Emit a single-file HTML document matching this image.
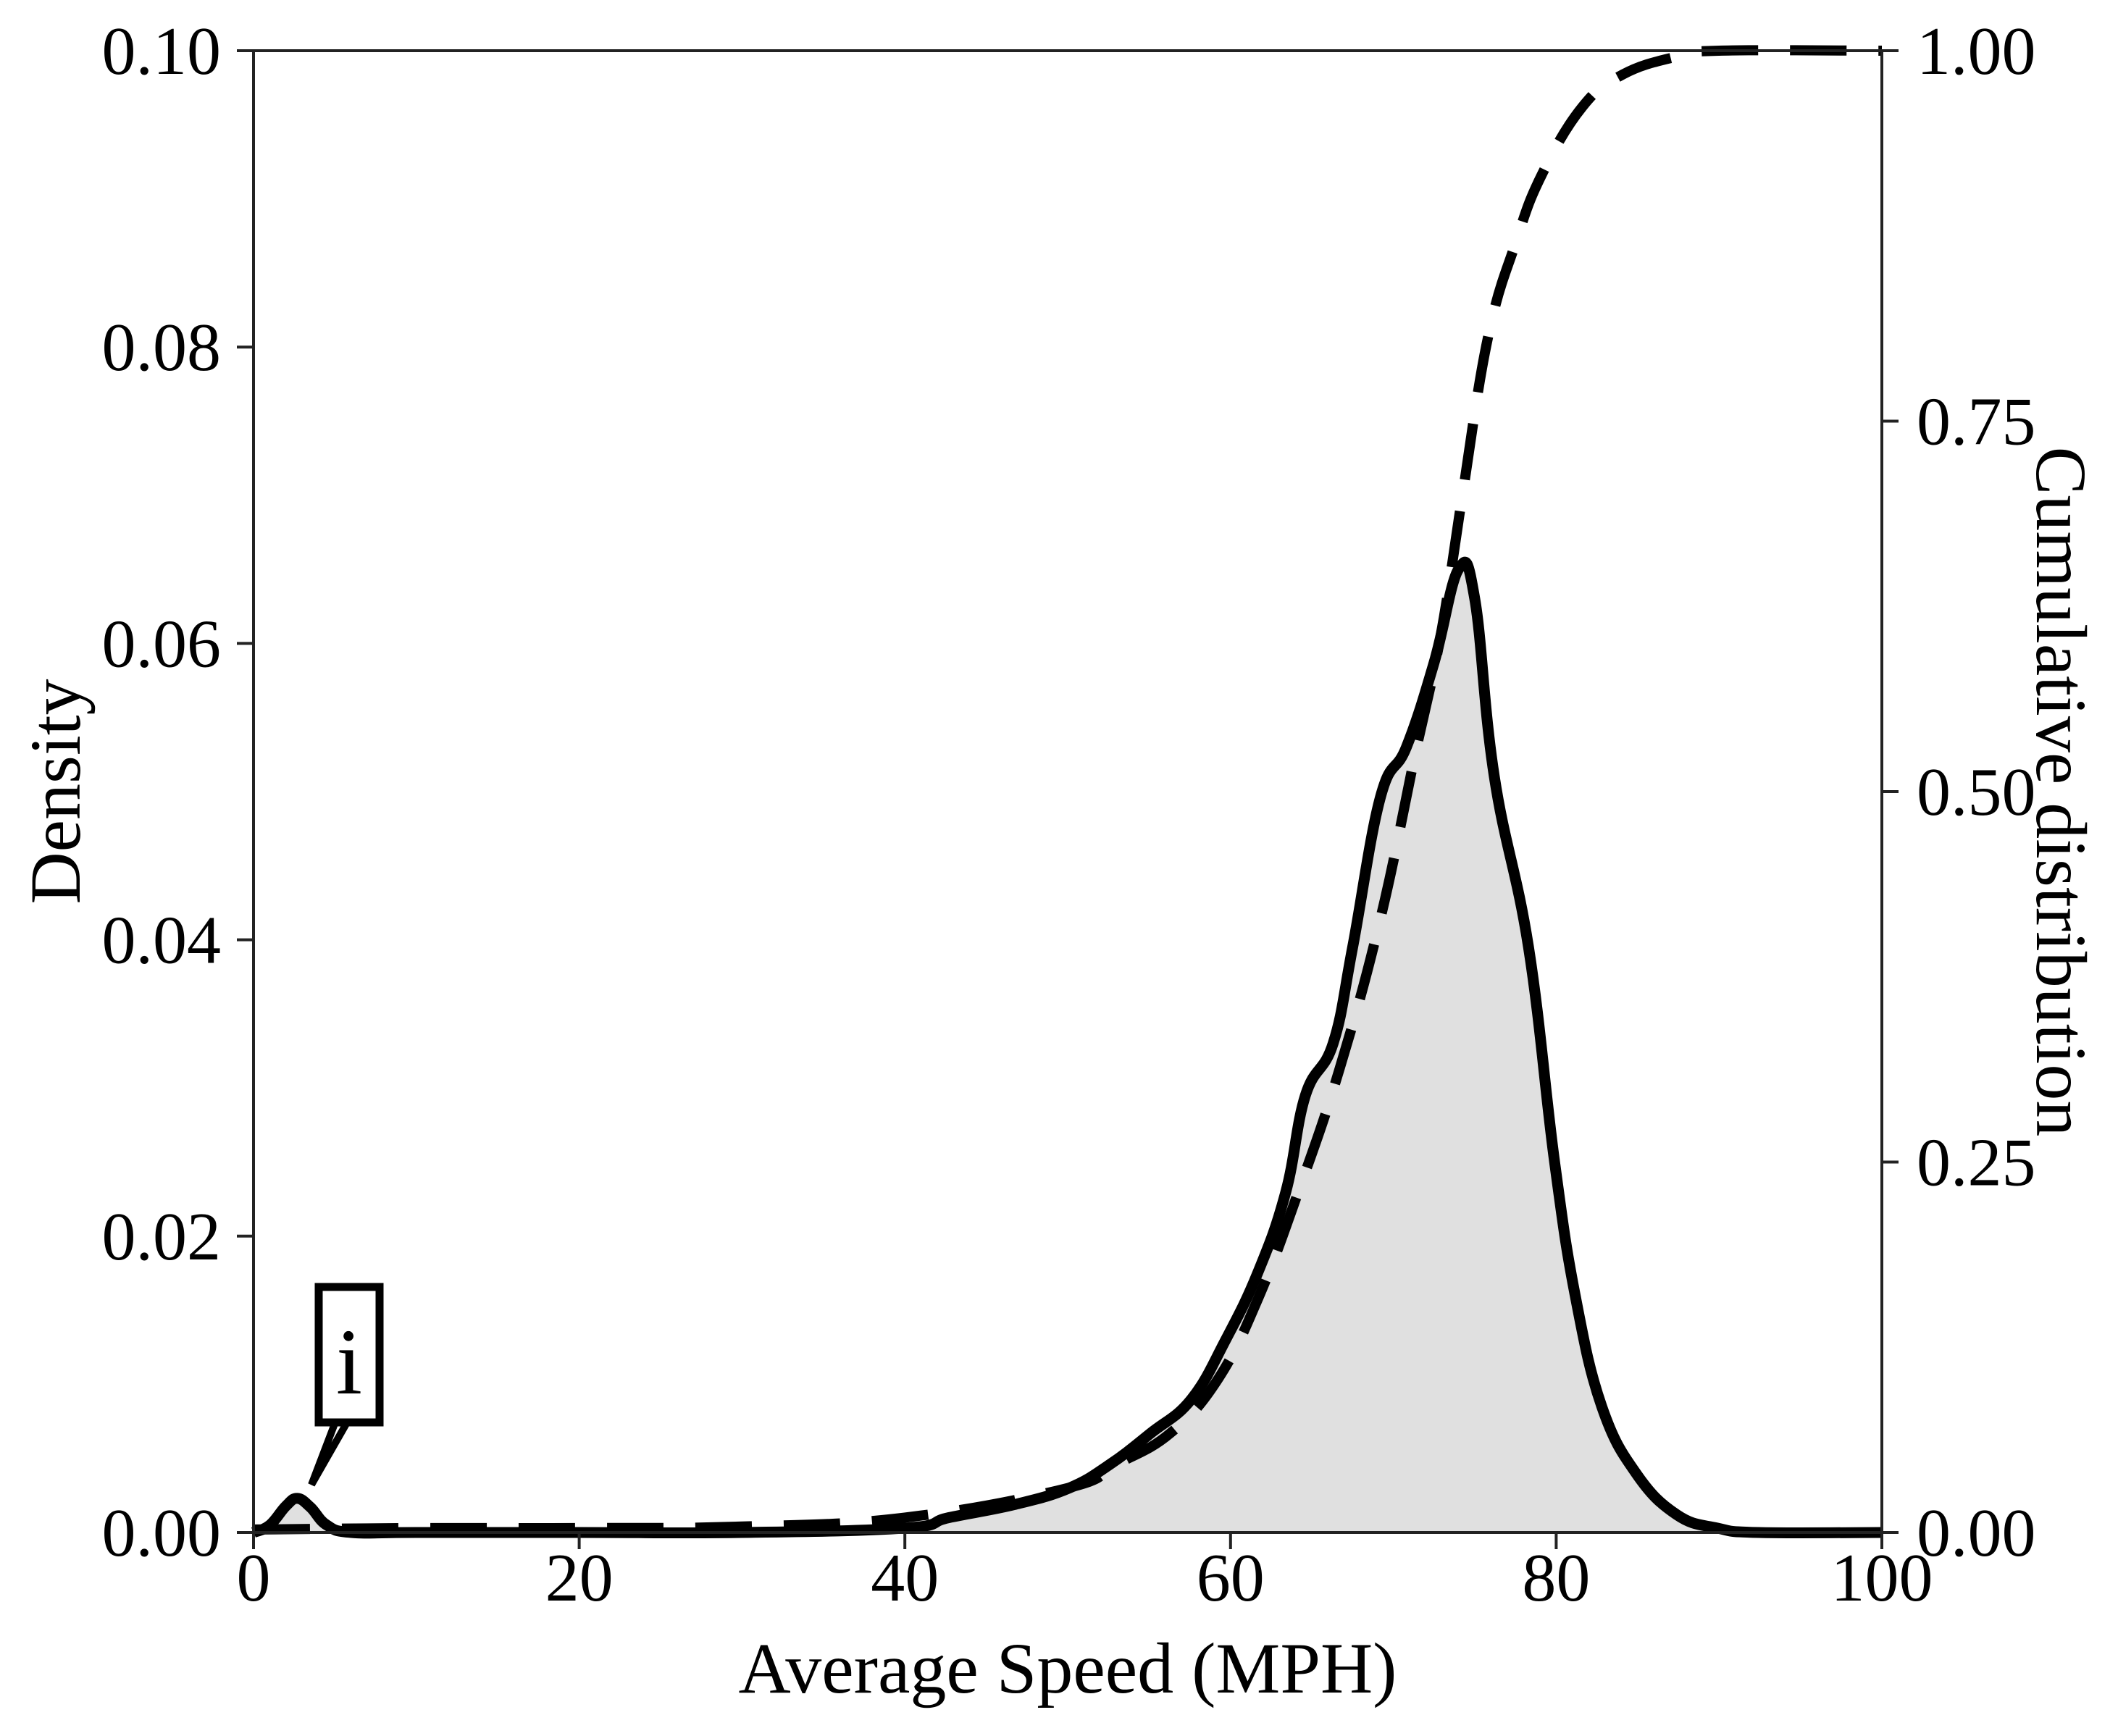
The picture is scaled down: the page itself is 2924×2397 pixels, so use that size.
<!DOCTYPE html>
<html><head><meta charset="utf-8"><style>
html,body{margin:0;padding:0;background:#fff;}
svg{display:block;font-family:"Liberation Serif",serif;}
</style></head><body>
<svg id="chart" width="2924" height="2397" viewBox="0 0 2924 2397" xmlns="http://www.w3.org/2000/svg">
<g id="fill"></g>
<g id="lines"></g>
<g id="axes"></g>
<g>
  <path d="M462,1966 L430,2050 L478,1966" fill="#fff" stroke="#000" stroke-width="10" stroke-linejoin="miter"/>
  <rect x="440" y="1777" width="84" height="187" fill="#fff" stroke="#000" stroke-width="11"/>
  <text x="482" y="1924" font-size="130" text-anchor="middle">i</text>
</g>
</svg>
<script>
const xVals=[0,1,2,2.7,3.5,4.5,6,10,20,30,40,42.7,46.8,50.1,52.6,55.1,57.6,59.7,61.7,63.4,64.6,66.3,67.5,69.2,70.8,72.5,74.0,75.0,76.2,78.3,79.9,81.2,82.8,84.9,87.4,89.9,92.4,100];
const density=[0,0.0005,0.0018,0.0023,0.0017,0.0005,0,0,0,0,0.0003,0.001,0.0019,0.003,0.0046,0.0067,0.009,0.013,0.0176,0.023,0.0295,0.033,0.0395,0.0496,0.053,0.0587,0.065,0.063,0.051,0.0395,0.025,0.0158,0.0085,0.004,0.0012,0.0003,0,0];
const cdfX=[0,10,20,30,40,50,53,56.3,59.2,61.7,64.2,66.7,69.2,71.3,72.9,74.2,75.8,77.5,79.1,81.6,84.1,87.4,90,100];
const cdfY=[0.002,0.003,0.003,0.004,0.01,0.03,0.046,0.067,0.103,0.158,0.231,0.313,0.414,0.523,0.605,0.697,0.806,0.870,0.916,0.962,0.984,0.996,1.0,1.0];
const xTicks=[0,20,40,60,80,100];
const yTicksL=[0,0.02,0.04,0.06,0.08,0.10];
const yTicksR=[0,0.25,0.5,0.75,1.0];

const L=350,R=2598,T=70,B=2116;
const sx=v=>L+(v/100)*(R-L);
const syL=v=>B-(v/0.1)*(B-T);
const syR=v=>B-v*(B-T);
const NS='http://www.w3.org/2000/svg';
function mk(tag,attrs,parent){const e=document.createElementNS(NS,tag);for(const k in attrs)e.setAttribute(k,attrs[k]);parent.appendChild(e);return e;}
function smooth(pts){
  let d='M'+pts[0][0].toFixed(1)+','+pts[0][1].toFixed(1);
  for(let i=0;i<pts.length-1;i++){
    const p0=pts[Math.max(i-1,0)],p1=pts[i],p2=pts[i+1],p3=pts[Math.min(i+2,pts.length-1)];
    const t=0.2;
    const c1=[p1[0]+(p2[0]-p0[0])*t,p1[1]+(p2[1]-p0[1])*t];
    const c2=[p2[0]-(p3[0]-p1[0])*t,p2[1]-(p3[1]-p1[1])*t];
    d+=' C'+c1[0].toFixed(1)+','+c1[1].toFixed(1)+' '+c2[0].toFixed(1)+','+c2[1].toFixed(1)+' '+p2[0].toFixed(1)+','+p2[1].toFixed(1);
  }
  return d;
}
const fillG=document.getElementById('fill'),linesG=document.getElementById('lines'),axesG=document.getElementById('axes');

const dPts=xVals.map((x,i)=>[sx(x),syL(density[i])]);
const dPath=smooth(dPts);
const area=mk('path',{d:dPath+' L'+sx(100)+','+B+' L'+sx(0)+','+B+' Z',fill:'#e0e0e0',stroke:'none'},fillG);



const dl=mk('path',{d:dPath,fill:'none',stroke:'#000','stroke-width':15,'stroke-linejoin':'round'},linesG);



const cPts=cdfX.map((x,i)=>[sx(x),syR(cdfY[i])]);
const cl=mk('path',{d:smooth(cPts),fill:'none',stroke:'#000','stroke-width':14,'stroke-dasharray':'78 44','stroke-linejoin':'round'},linesG);



const frame=mk('rect',{x:L,y:T,width:R-L,height:B-T,fill:'none',stroke:'#222','stroke-width':4},axesG);



xTicks.forEach(v=>{
  const t=mk('line',{x1:sx(v),x2:sx(v),y1:B,y2:B+23,stroke:'#222','stroke-width':4},axesG);
  
  
  const tx=mk('text',{x:sx(v),y:B+94,'font-size':94,'text-anchor':'middle'},axesG);
  tx.textContent=String(v);
  
  
});
yTicksL.forEach(v=>{
  const t=mk('line',{x1:L-23,x2:L,y1:syL(v),y2:syL(v),stroke:'#222','stroke-width':4},axesG);
  
  
  const tx=mk('text',{x:L-45,y:syL(v)+32,'font-size':94,'text-anchor':'end'},axesG);
  tx.textContent=v.toFixed(2);
  
  
});
yTicksR.forEach(v=>{
  const t=mk('line',{x1:R,x2:R+23,y1:syR(v),y2:syR(v),stroke:'#222','stroke-width':4},axesG);
  
  
  const tx=mk('text',{x:R+48,y:syR(v)+32,'font-size':94,'text-anchor':'start'},axesG);
  tx.textContent=v.toFixed(2);
  
  
});
const xt=mk('text',{x:1474,y:2337,'font-size':100,'text-anchor':'middle'},axesG);
xt.textContent='Average Speed (MPH)';


const yl=mk('text',{x:0,y:0,'font-size':100,'text-anchor':'middle',transform:'translate(110,1093) rotate(-90)'},axesG);
yl.textContent='Density';


const yr=mk('text',{x:0,y:0,'font-size':100,'text-anchor':'middle',transform:'translate(2812,1093) rotate(90)'},axesG);
yr.textContent='Cumulative distribution';


</script>
</body></html>
